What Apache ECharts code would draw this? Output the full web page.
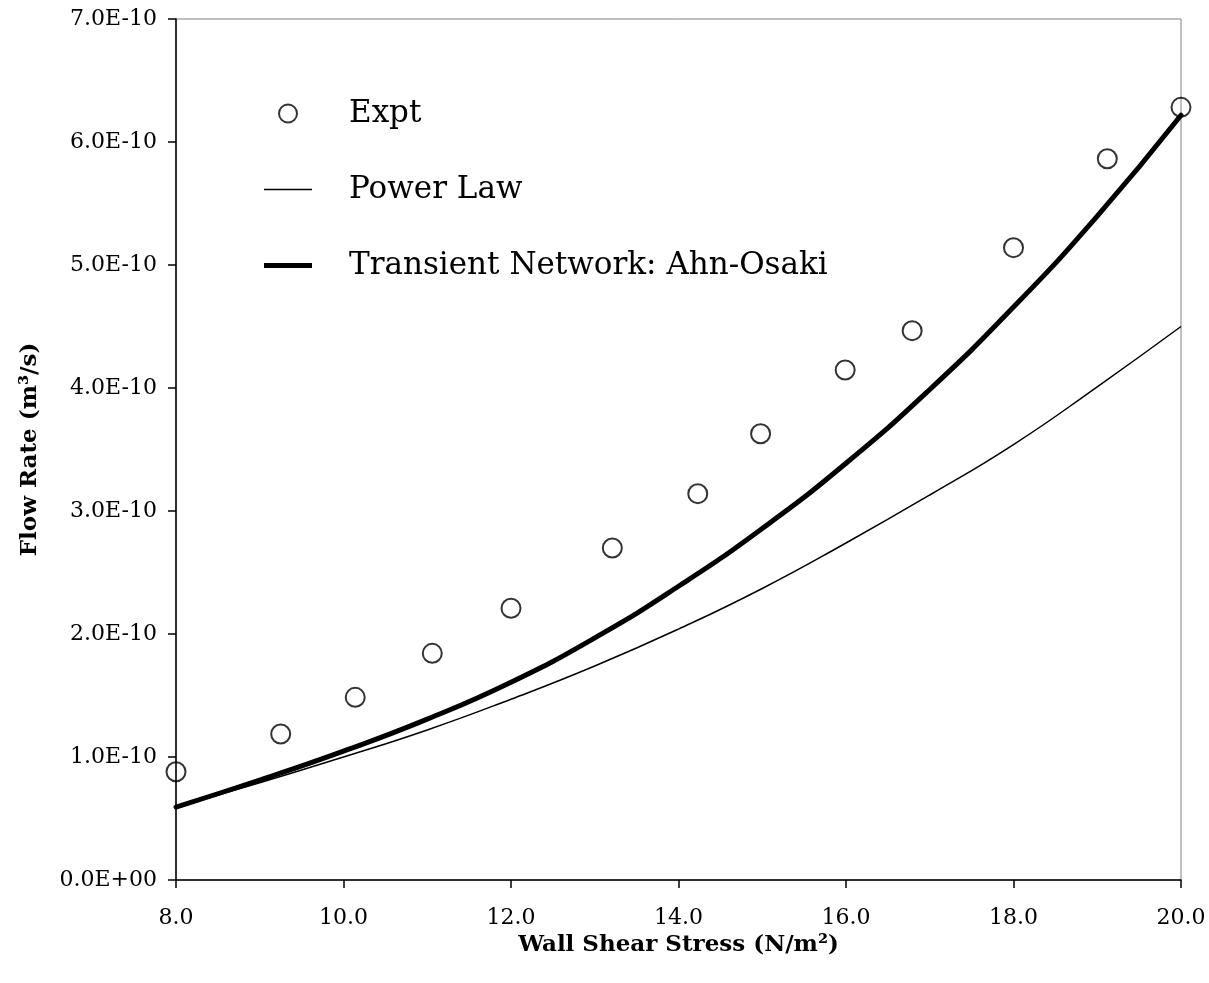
<!DOCTYPE html>
<html>
<head>
<meta charset="utf-8">
<script src="https://cdn.jsdelivr.net/npm/echarts@6/dist/echarts.min.js"></script>
<style>
  html, body { margin: 0; padding: 0; background: #fff; }
  #chart { width: 1209px; height: 983px; }
</style>
</head>
<body>
<div id="chart"></div>
<script>
// ---- data (flow rate in units of 1E-10 m^3/s) ----
const expX = [8.0, 9.25, 10.14, 11.06, 12.0, 13.21, 14.23, 14.98, 15.99, 16.79, 18.0, 19.12, 20.0];
const expY = [0.88, 1.187, 1.485, 1.843, 2.209, 2.699, 3.141, 3.628, 4.146, 4.466, 5.141, 5.864, 6.282];

const curveX = [8, 9, 10, 11, 12, 13, 14, 15, 16, 17, 18, 19, 20];
const powerLawY = [0.593, 0.79, 1.00, 1.22, 1.47, 1.74, 2.04, 2.37, 2.74, 3.13, 3.54, 4.01, 4.50];
const ahnOsakiY = [0.593, 0.813, 1.048, 1.308, 1.608, 1.968, 2.388, 2.858, 3.388, 3.988, 4.658, 5.398, 6.218];

const xTickLabels = ['8.0', '10.0', '12.0', '14.0', '16.0', '18.0', '20.0'];
const yTickLabels = ['0.0E+00', '1.0E-10', '2.0E-10', '3.0E-10', '4.0E-10', '5.0E-10', '6.0E-10', '7.0E-10'];

const seriesNames = ['Expt', 'Power Law', 'Transient Network: Ahn-Osaki'];

const FONT = '"DejaVu Serif", "Liberation Serif", serif';

function pairs(xs, ys) { return xs.map((x, i) => [x, ys[i]]); }

// legend line icons: a horizontal band inside a 48x18 box
const thinIcon = 'path://M0,0L0,0M0,8.25L48,8.25L48,9.75L0,9.75ZM48,18L48,18';
const thickIcon = 'path://M0,0L0,0M0,6.5L48,6.5L48,11.5L0,11.5ZM48,18L48,18';

const chart = echarts.init(document.getElementById('chart'), null, { renderer: 'canvas' });

chart.setOption({
  animation: false,
  backgroundColor: '#ffffff',
  grid: {
    left: 176, right: 28, top: 19, bottom: 103,
    show: true, borderColor: '#808080', borderWidth: 1,
    containLabel: false, outerBoundsMode: 'none'
  },
  legend: {
    orient: 'vertical',
    left: 259, top: 93,
    padding: 5,
    itemWidth: 48, itemHeight: 18, itemGap: 45,
    selectedMode: false,
    textStyle: { fontFamily: FONT, fontSize: 31, color: '#000', padding: [0, 0, 0, 32] },
    data: [
      { name: seriesNames[0] },
      { name: seriesNames[1], icon: thinIcon, itemStyle: { color: '#000', borderWidth: 0 } },
      { name: seriesNames[2], icon: thickIcon, itemStyle: { color: '#000', borderWidth: 0 } }
    ]
  },
  xAxis: {
    type: 'value', min: 8, max: 20, interval: 2,
    axisLine: { onZero: false, lineStyle: { color: '#000', width: 1.5 } },
    axisTick: { inside: false, length: 8, lineStyle: { color: '#000', width: 1.5 } },
    splitLine: { show: false },
    axisLabel: {
      margin: 27, color: '#000', fontFamily: FONT, fontSize: 22,
      formatter: function (v) { const i = Math.round((v - 8) / 2); return xTickLabels[i] !== undefined ? xTickLabels[i] : ''; }
    },
    name: 'Wall Shear Stress (N/m²)',
    nameLocation: 'middle', nameGap: 50,
    nameTextStyle: { fontFamily: FONT, fontWeight: 'bold', fontSize: 23, color: '#000' }
  },
  yAxis: {
    type: 'value', min: 0, max: 7, interval: 1,
    axisLine: { onZero: false, lineStyle: { color: '#000', width: 1.5 } },
    axisTick: { inside: false, length: 8, lineStyle: { color: '#000', width: 1.5 } },
    splitLine: { show: false },
    axisLabel: {
      margin: 19, color: '#000', fontFamily: FONT, fontSize: 22,
      formatter: function (v) { const i = Math.round(v); return yTickLabels[i] !== undefined ? yTickLabels[i] : ''; }
    },
    name: 'Flow Rate (m³/s)',
    nameLocation: 'middle', nameGap: 134,
    nameTextStyle: { fontFamily: FONT, fontWeight: 'bold', fontSize: 23, color: '#000' }
  },
  series: [
    {
      name: seriesNames[0], type: 'scatter',
      data: pairs(expX, expY),
      symbol: 'circle', symbolSize: 19, clip: false, z: 3,
      itemStyle: { color: 'rgba(0,0,0,0)', borderColor: '#000', borderWidth: 2 }
    },
    {
      name: seriesNames[1], type: 'line',
      data: pairs(curveX, powerLawY),
      smooth: true, showSymbol: false, z: 2,
      lineStyle: { color: '#000', width: 1.5 },
      itemStyle: { color: '#000' }
    },
    {
      name: seriesNames[2], type: 'line',
      data: pairs(curveX, ahnOsakiY),
      smooth: true, showSymbol: false, z: 2,
      lineStyle: { color: '#000', width: 5, cap: 'round' },
      itemStyle: { color: '#000' }
    }
  ]
});
</script>
</body>
</html>
